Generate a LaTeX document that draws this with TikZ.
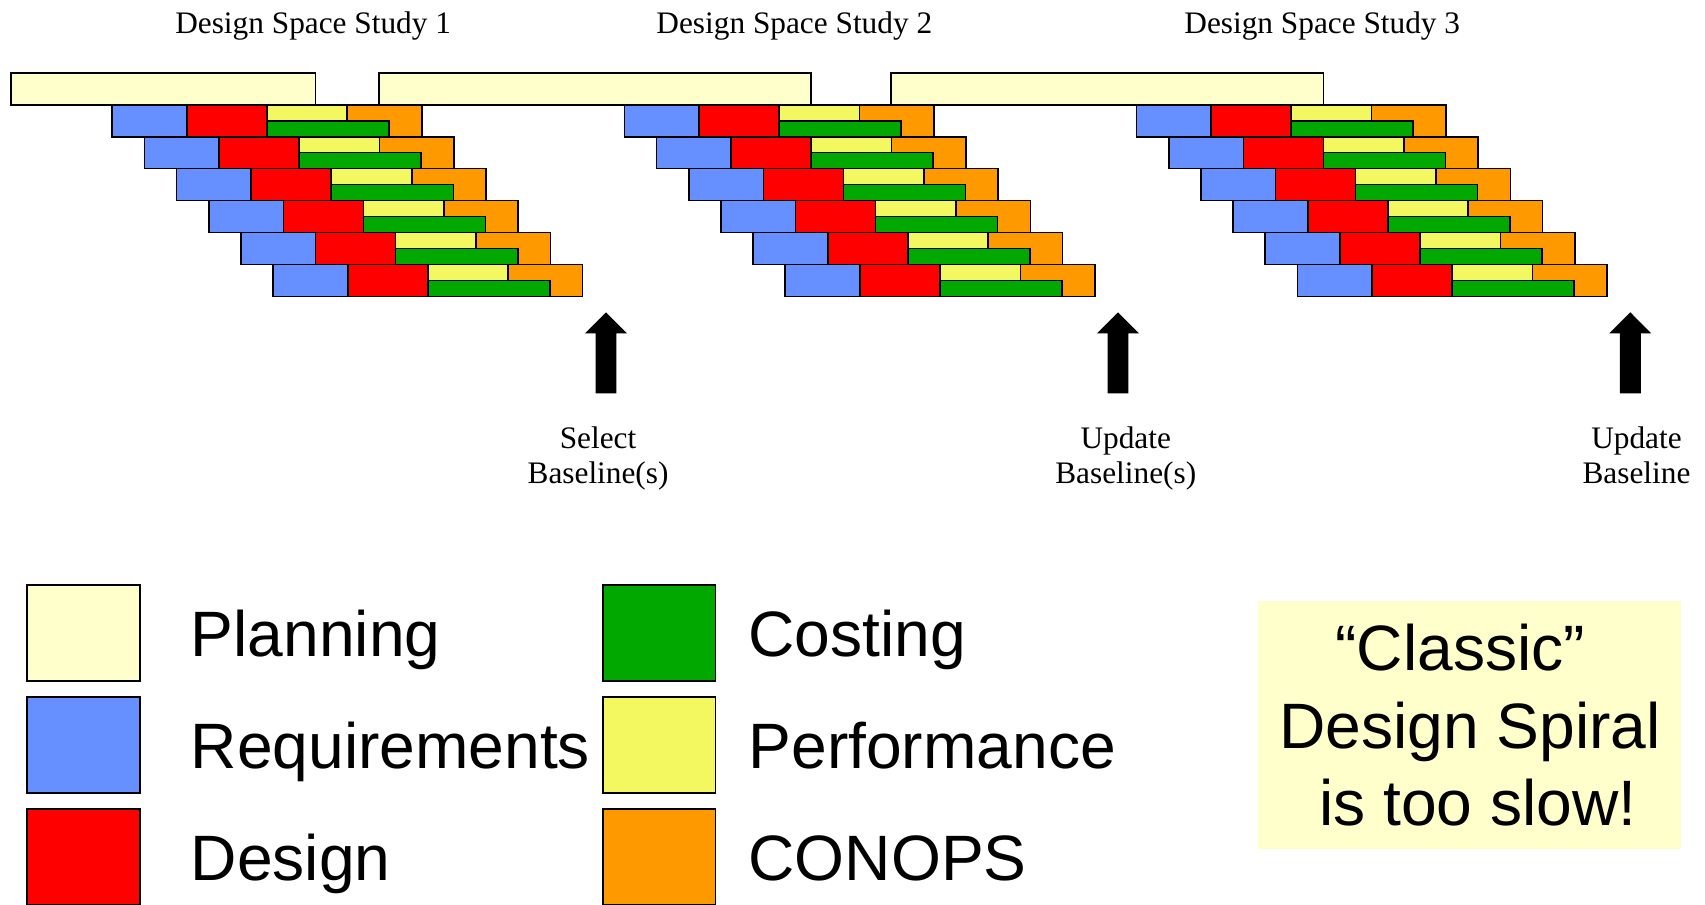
\documentclass[tikz,border=0pt]{standalone}
\usepackage{fontspec}
\setmainfont{Liberation Serif}
\newfontfamily\arialfont{Liberation Sans}
\usepackage{tikz}
\usetikzlibrary{positioning}
\definecolor{planyellow}{RGB}{255,255,204}
\definecolor{reqblue}{RGB}{102,143,255}
\definecolor{desred}{RGB}{255,0,0}
\definecolor{costgreen}{RGB}{0,168,0}
\definecolor{perfyellow}{RGB}{244,248,96}
\definecolor{conopsorange}{RGB}{255,153,0}
\tikzstyle{phase} = [draw=black, line width=0.75pt]
\tikzstyle{studytitle} = [font=\fontsize{14.4}{17}\selectfont, inner sep=0pt, anchor=base]
\tikzstyle{baselabel} = [font=\fontsize{14.4}{16.4}\selectfont, align=center, inner sep=0pt, anchor=base]
\tikzstyle{legendtext} = [font=\arialfont\fontsize{29.5}{36}\selectfont, inner sep=0pt, anchor=base west]
\tikzstyle{milestone} = [fill=black]

\begin{document}
\begin{tikzpicture}[x=0.5pt, y=-0.5pt]
\useasboundingbox (0,0) rectangle (1568,832);

% Titles of the three studies
\node[studytitle] (title1) at (288,30.7) {Design Space Study 1};
\node[studytitle] (title2) at (730.5,30.7) {Design Space Study 2};
\node[studytitle] (title3) at (1216,30.7) {Design Space Study 3};

% Planning bars
\foreach \xa/\xb in {9.9/290.3, 348.6/745.8, 819.4/1217}
  \draw[phase, fill=planyellow] (\xa,67.4) rectangle (\xb,96.3);

% six staggered passes round the spiral in each study
\foreach \ox in {103.2, 574.2, 1045.2} {
  \foreach \r in {0,...,5} {
    \pgfmathsetmacro{\rx}{\ox+29.6*\r}
    \pgfmathsetmacro{\ry}{96.3+29.4*\r}
    \draw[phase, fill=reqblue] (\rx,\ry) rectangle ++(68.6,29.4);
    \draw[phase, fill=desred] (\rx+68.6,\ry) rectangle ++(73.6,29.4);
    \draw[phase, fill=conopsorange] (\rx+216.2,\ry) rectangle ++(68.4,29.4);
    \draw[phase, fill=perfyellow] (\rx+142.2,\ry) rectangle ++(74,14.7);
    \draw[phase, fill=costgreen] (\rx+142.2,\ry+14.7) rectangle ++(112.3,14.7);
  }
}

% Baseline milestones
\foreach \ax in {557.3, 1028.2, 1499.3}
  \fill[milestone] (\ax,287.2) -- (\ax+19.2,306.5) -- (\ax+9.6,306.5) -- (\ax+9.6,361.7)
    -- (\ax-9.6,361.7) -- (\ax-9.6,306.5) -- (\ax-19.2,306.5) -- cycle;

% anchor base sits on the last line
\node[baselabel] (select) at (550,445) {Select\\Baseline(s)};
\node[baselabel] (update1) at (1035.3,445) {Update\\Baseline(s)};
\node[baselabel] (update2) at (1505,445) {Update\\Baseline};

% Legend
\foreach \fillc/\sx/\sy/\lx/\name in {
    planyellow/25/538/175/Planning, reqblue/25/640.7/175/Requirements, desred/25/743.7/175/Design,
    costgreen/554.5/538/688/Costing, perfyellow/554.5/640.7/688/Performance, conopsorange/554.5/743.7/688/CONOPS} {
  \draw[phase, fill=\fillc] (\sx,\sy) rectangle ++(103.5,88.3);
  \node[legendtext] (key-\name) at (\lx,\sy+65.7) {\name};
}

% Note box
\fill[planyellow] (1157,553) rectangle (1546,781);
\node[font=\arialfont\fontsize{29.5}{35.5}\selectfont, align=center, anchor=base, inner sep=0pt] (slow) at (1352,759)
  {“Classic”\hspace*{9pt}\\Design Spiral\\\hspace*{7pt}is too slow!};
\end{tikzpicture}
\end{document}
